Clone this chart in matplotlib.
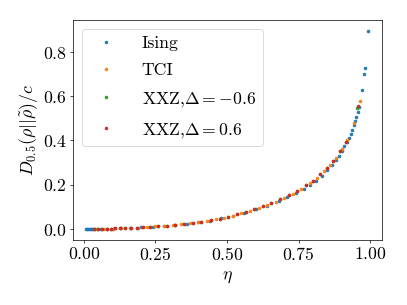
import matplotlib
matplotlib.use("Agg")
import matplotlib.pyplot as plt

plt.rcParams["font.family"] = "serif"
plt.rcParams["font.serif"] = ["cmr10"]
plt.rcParams["mathtext.fontset"] = "cm"
plt.rcParams["axes.formatter.use_mathtext"] = True
plt.rcParams["font.size"] = 20

# values
ising_eta = [0.008, 0.012, 0.016, 0.020, 0.025, 0.030, 0.035, 0.045, 0.06, 0.08,
             0.10, 0.13, 0.16, 0.20, 0.24, 0.28, 0.32, 0.36, 0.40, 0.44,
             0.48, 0.52, 0.56, 0.60, 0.64, 0.68, 0.71, 0.74, 0.77, 0.79,
             0.81, 0.83, 0.85, 0.865, 0.88, 0.89, 0.90, 0.91, 0.918, 0.925,
             0.932, 0.938, 0.944, 0.948, 0.952, 0.956, 0.960, 0.972, 0.980, 0.983,
             0.992]
ising_d = [0.0, 0.0, 0.0, 0.0, 0.0, 0.0001, 0.0001, 0.0002, 0.0004, 0.001,
           0.0015, 0.003, 0.0045, 0.007, 0.010, 0.014, 0.018, 0.024, 0.030, 0.038,
           0.048, 0.060, 0.074, 0.089, 0.105, 0.126, 0.143, 0.161, 0.182, 0.198,
           0.216, 0.239, 0.265, 0.287, 0.312, 0.331, 0.352, 0.373, 0.392, 0.410,
           0.428, 0.448, 0.472, 0.490, 0.508, 0.528, 0.553, 0.628, 0.699, 0.726,
           0.896]

tci_eta = [0.04, 0.07, 0.10, 0.13, 0.16, 0.19, 0.22, 0.25, 0.28, 0.31,
           0.34, 0.37, 0.40, 0.43, 0.46, 0.49, 0.52, 0.55, 0.58, 0.61,
           0.64, 0.67, 0.70, 0.73, 0.76, 0.79, 0.815, 0.84, 0.86, 0.88,
           0.90, 0.92, 0.945, 0.965]
tci_d = [0.0001, 0.0007, 0.0015, 0.003, 0.0045, 0.0063, 0.0085, 0.011, 0.014, 0.017,
         0.021, 0.025, 0.030, 0.036, 0.043, 0.051, 0.060, 0.070, 0.082, 0.094,
         0.108, 0.123, 0.141, 0.160, 0.182, 0.207, 0.232, 0.262, 0.288, 0.322,
         0.362, 0.404, 0.480, 0.578]

xxz_m_eta = [0.035, 0.05, 0.065, 0.08, 0.095, 0.11, 0.125, 0.145, 0.165, 0.185,
             0.205, 0.23, 0.26, 0.29, 0.32, 0.35, 0.38, 0.41, 0.445, 0.475,
             0.505, 0.535, 0.565, 0.595, 0.625, 0.655, 0.685, 0.715, 0.745, 0.775,
             0.80, 0.825, 0.85, 0.87, 0.895, 0.915, 0.955]
xxz_m_d = [0.0001, 0.0002, 0.0005, 0.0009, 0.0013, 0.0019, 0.0026, 0.0036, 0.0048, 0.006,
           0.0075, 0.0095, 0.012, 0.015, 0.0185, 0.0225, 0.027, 0.0325, 0.039, 0.047,
           0.056, 0.066, 0.077, 0.089, 0.102, 0.117, 0.134, 0.152, 0.173, 0.197,
           0.218, 0.246, 0.277, 0.306, 0.352, 0.395, 0.546]

xxz_p_eta = [0.037, 0.05, 0.065, 0.08, 0.095, 0.11, 0.125, 0.145, 0.165, 0.185,
             0.205, 0.23, 0.26, 0.29, 0.32, 0.35, 0.38, 0.41, 0.445, 0.475,
             0.505, 0.535, 0.565, 0.595, 0.625, 0.655, 0.685, 0.715, 0.745, 0.775,
             0.80, 0.825, 0.85, 0.87, 0.895, 0.915, 0.957]
xxz_p_d = [0.0001, 0.0002, 0.0005, 0.0009, 0.0013, 0.0019, 0.0026, 0.0036, 0.0048, 0.006,
           0.0075, 0.0095, 0.012, 0.015, 0.0185, 0.0225, 0.027, 0.0325, 0.039, 0.047,
           0.056, 0.066, 0.077, 0.089, 0.102, 0.117, 0.134, 0.152, 0.173, 0.197,
           0.218, 0.246, 0.277, 0.306, 0.352, 0.395, 0.556]

labels = ["Ising", "TCI", r"XXZ,$\Delta=-0.6$", r"XXZ,$\Delta=0.6$"]

fig = plt.figure(figsize=(6.4, 4.8), dpi=63.6)
ax = fig.add_axes([0.179, 0.213, 0.760, 0.721])

ax.plot(ising_eta, ising_d, ".", label=labels[0])
ax.plot(tci_eta, tci_d, ".", label=labels[1])
ax.plot(xxz_m_eta, xxz_m_d, ".", label=labels[2])
ax.plot(xxz_p_eta, xxz_p_d, ".", label=labels[3])

ax.set_xlim(-0.0385, 1.042)
ax.set_ylim(-0.05, 0.945)
ax.set_xticks([0.0, 0.25, 0.5, 0.75, 1.0])
ax.set_yticks([0.0, 0.2, 0.4, 0.6, 0.8])
ax.set_xlabel(r"$\eta$", labelpad=7)
ax.set_ylabel(r"$D_{0.5}(\rho||\tilde{\rho})/c$", labelpad=3)
ax.legend(loc="upper left", labelspacing=0.66, handletextpad=1.0)

fig.savefig("out.png", dpi=63.6)
